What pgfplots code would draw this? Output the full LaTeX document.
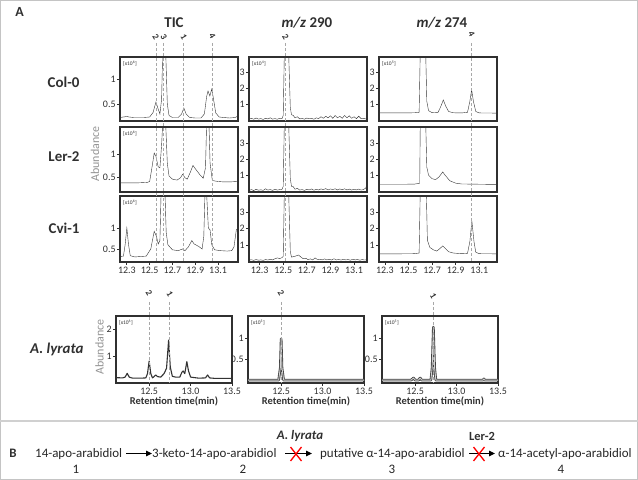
\documentclass[border=0pt]{standalone}
\usepackage{pgfplots}
\pgfplotsset{compat=1.18}
\usepackage{fontspec}
\setmainfont{Carlito}
\usetikzlibrary{arrows.meta}
\definecolor{tr}{HTML}{333333}
\definecolor{bx}{HTML}{303030}
\definecolor{gd}{HTML}{A8A8A8}
\definecolor{frame}{HTML}{C4C4C4}
\pgfplotsset{
  panel/.style={
    scale only axis,
    anchor=north west,
    axis line style={draw=bx, line width=1.3bp},
    tick style={draw=bx, line width=0.7bp},
    tick align=outside,
    major tick length=3bp,
    xtick pos=bottom, ytick pos=left,
    tick label style={font=\fontsize{10}{10}\selectfont, text=bx},
    /pgf/number format/assume math mode=true,
    cycle list={{draw=tr, line width=1.05bp, line join=round, mark=none}},
    xticklabel style={inner sep=1.5bp},
    yticklabel style={inner sep=1.2bp},
  },
  tic/.style={panel, xmin=12.24, xmax=13.275, ytick={0.5,1}, width=118bp},
  mza/.style={panel, xmin=12.21, xmax=13.21, ymin=-0.05, ymax=4, ytick={1,2,3}, width=118bp},
  mzb/.style={panel, xmin=12.25, xmax=13.25, ymin=-0.05, ymax=4, ytick={1,2,3}, width=118bp},
  upper/.style={xtick=\empty},
  lower/.style={xtick={12.3,12.5,12.7,12.9,13.1}, xticklabels={12.3,12.5,12.7,12.9,13.1}},
  lyr/.style={panel, xmin=12.1, xmax=13.5, width=116bp, height=67bp, xtick={12.5,13,13.5}, xticklabels={12.5,13.0,13.5}},
}
\newcommand{\mult}[1]{\node[anchor=west, font=\fontsize{5.5}{6}\selectfont, text=bx, inner sep=0] at (rel axis cs:0.025,0.9) {[x10\textsuperscript{#1}]};}
\tikzset{guide/.style={draw=gd, line width=0.8bp, dash pattern=on 3bp off 2bp},
  plab/.style={font=\fontsize{9}{9}\selectfont\bfseries, text=bx, rotate=-60, inner sep=0}}
\begin{document}
\begin{tikzpicture}
\path[use as bounding box] (0,0) rectangle (638bp,480bp);
% ---------------- Row 1: Col-0
\begin{axis}[tic, upper, at={(120bp,423bp)}, height=64bp, ymin=0.16, ymax=1.44]
\addplot coordinates {(12.24,0.23)(12.27,0.24)(12.30,0.25)(12.32,0.24)(12.36,0.23)(12.40,0.23)(12.45,0.23)(12.50,0.24)(12.53,0.33)(12.555,0.54)(12.575,0.40)(12.59,0.30)(12.605,0.6)(12.615,1.6)(12.64,1.6)(12.655,0.5)(12.67,0.27)(12.70,0.23)(12.75,0.23)(12.78,0.30)(12.80,0.42)(12.82,0.30)(12.85,0.23)(12.90,0.22)(12.95,0.22)(12.98,0.30)(13.00,0.65)(13.012,0.76)(13.028,0.66)(13.045,0.80)(13.06,0.60)(13.08,0.32)(13.11,0.24)(13.15,0.23)(13.20,0.22)(13.25,0.23)(13.275,0.26)};
\mult{6}
\coordinate (t2) at (axis cs:12.555,1);
\coordinate (t3) at (axis cs:12.625,1);
\coordinate (t1) at (axis cs:12.80,1);
\coordinate (t4) at (axis cs:13.05,1);
\end{axis}
\begin{axis}[mza, upper, at={(249bp,423bp)}, height=64bp]
\addplot coordinates {(12.21,0.08)(12.23,0.12)(12.25,0.06)(12.27,0.14)(12.29,0.07)(12.31,0.10)(12.33,0.05)(12.35,0.12)(12.37,0.08)(12.39,0.15)(12.41,0.07)(12.43,0.10)(12.45,0.06)(12.47,0.12)(12.49,0.10)(12.50,0.3)(12.51,4.5)(12.545,4.5)(12.56,0.8)(12.57,0.35)(12.585,0.3)(12.60,0.15)(12.62,0.22)(12.64,0.08)(12.66,0.12)(12.68,0.06)(12.70,0.14)(12.72,0.09)(12.74,0.12)(12.76,0.06)(12.78,0.15)(12.80,0.10)(12.82,0.22)(12.84,0.12)(12.86,0.25)(12.88,0.15)(12.90,0.28)(12.92,0.12)(12.94,0.30)(12.96,0.15)(12.98,0.25)(13.00,0.12)(13.02,0.30)(13.04,0.15)(13.06,0.28)(13.08,0.12)(13.10,0.22)(13.12,0.10)(13.14,0.25)(13.16,0.10)(13.18,0.12)(13.20,0.08)(13.21,0.10)};
\mult{4}
\coordinate (m2) at (axis cs:12.52,1);
\end{axis}
\begin{axis}[mzb, upper, at={(379bp,423bp)}, height=64bp]
\addplot coordinates {(12.25,0.46)(12.40,0.46)(12.55,0.47)(12.59,0.5)(12.60,4.5)(12.645,4.5)(12.655,1.2)(12.67,0.6)(12.70,0.48)(12.75,0.5)(12.77,0.8)(12.795,1.28)(12.815,0.9)(12.84,0.55)(12.88,0.47)(12.95,0.46)(13.00,0.5)(13.02,1.2)(13.035,1.93)(13.05,1.2)(13.07,0.55)(13.10,0.46)(13.25,0.45)};
\mult{5}
\coordinate (n4) at (axis cs:13.035,1);
\end{axis}
% ---------------- Row 2: Ler-2
\begin{axis}[tic, upper, at={(120bp,353bp)}, height=65bp, ymin=0.17, ymax=1.59]
\addplot coordinates {(12.24,0.37)(12.30,0.37)(12.40,0.37)(12.48,0.38)(12.50,0.40)(12.52,0.70)(12.54,1.02)(12.555,0.95)(12.575,0.72)(12.59,0.70)(12.605,1.2)(12.615,1.7)(12.64,1.7)(12.655,0.8)(12.67,0.52)(12.70,0.45)(12.74,0.43)(12.77,0.48)(12.79,0.56)(12.81,0.48)(12.83,0.45)(12.86,0.62)(12.88,0.75)(12.90,0.68)(12.94,0.55)(12.97,0.47)(12.99,0.7)(13.00,1.7)(13.02,1.7)(13.03,0.8)(13.05,0.42)(13.10,0.40)(13.15,0.39)(13.20,0.39)(13.275,0.40)};
\mult{6}
\end{axis}
\begin{axis}[mza, upper, at={(249bp,353bp)}, height=65bp]
\addplot coordinates {(12.21,0.05)(12.23,0.10)(12.25,0.04)(12.27,0.12)(12.29,0.06)(12.31,0.09)(12.33,0.05)(12.35,0.15)(12.37,0.07)(12.39,0.10)(12.41,0.05)(12.43,0.12)(12.45,0.07)(12.47,0.10)(12.49,0.12)(12.50,0.3)(12.51,4.5)(12.545,4.5)(12.56,0.8)(12.57,0.30)(12.585,0.28)(12.60,0.12)(12.62,0.18)(12.64,0.07)(12.66,0.10)(12.68,0.05)(12.70,0.12)(12.72,0.08)(12.74,0.14)(12.76,0.06)(12.78,0.12)(12.80,0.08)(12.82,0.14)(12.84,0.10)(12.86,0.16)(12.88,0.08)(12.90,0.14)(12.92,0.10)(12.94,0.15)(12.96,0.08)(12.98,0.14)(13.00,0.09)(13.02,0.15)(13.04,0.08)(13.06,0.13)(13.08,0.07)(13.10,0.12)(13.12,0.08)(13.14,0.13)(13.16,0.07)(13.18,0.10)(13.20,0.20)(13.21,0.45)};
\end{axis}
\begin{axis}[mzb, upper, at={(379bp,353bp)}, height=65bp]
\addplot coordinates {(12.25,0.43)(12.40,0.43)(12.55,0.44)(12.595,0.5)(12.60,4.5)(12.645,4.5)(12.655,1.5)(12.67,1.0)(12.70,0.78)(12.73,0.72)(12.76,0.9)(12.79,1.2)(12.81,1.0)(12.85,0.65)(12.90,0.5)(12.95,0.45)(13.05,0.44)(13.25,0.42)};
\end{axis}
% ---------------- Row 3: Cvi-1
\begin{axis}[tic, lower, at={(120bp,284bp)}, height=66bp, ymin=0.19, ymax=1.76]
\addplot coordinates {(12.24,0.32)(12.27,0.33)(12.285,0.6)(12.30,1.0)(12.315,0.6)(12.33,0.34)(12.37,0.31)(12.42,0.32)(12.47,0.33)(12.51,0.50)(12.54,0.92)(12.56,0.80)(12.575,0.62)(12.59,0.70)(12.60,1.8)(12.635,1.8)(12.645,0.9)(12.66,0.60)(12.70,0.48)(12.75,0.46)(12.79,0.50)(12.81,0.46)(12.84,0.55)(12.87,0.70)(12.89,0.62)(12.93,0.56)(12.96,0.50)(12.975,0.8)(12.985,1.8)(13.00,1.8)(13.015,1.0)(13.03,0.95)(13.045,0.6)(13.07,0.48)(13.12,0.46)(13.18,0.45)(13.22,0.46)(13.24,0.55)(13.26,0.95)(13.275,1.0)};
\mult{6}
\end{axis}
\begin{axis}[mza, lower, at={(249bp,284bp)}, height=66bp]
\addplot coordinates {(12.21,0.06)(12.23,0.09)(12.25,0.05)(12.27,0.10)(12.29,0.06)(12.31,0.08)(12.33,0.05)(12.35,0.10)(12.37,0.07)(12.39,0.12)(12.41,0.08)(12.43,0.15)(12.45,0.20)(12.47,0.16)(12.49,0.22)(12.50,0.3)(12.51,4.5)(12.545,4.5)(12.56,0.6)(12.57,0.25)(12.60,0.30)(12.63,0.38)(12.65,0.25)(12.67,0.15)(12.69,0.18)(12.71,0.10)(12.73,0.14)(12.75,0.08)(12.77,0.20)(12.79,0.10)(12.81,0.12)(12.83,0.08)(12.85,0.14)(12.87,0.08)(12.89,0.12)(12.91,0.07)(12.93,0.15)(12.95,0.08)(12.97,0.10)(12.99,0.07)(13.01,0.12)(13.03,0.08)(13.05,0.10)(13.07,0.06)(13.09,0.12)(13.11,0.08)(13.13,0.10)(13.15,0.06)(13.17,0.10)(13.19,0.07)(13.21,0.09)};
\end{axis}
\begin{axis}[mzb, lower, at={(379bp,284bp)}, height=66bp]
\addplot coordinates {(12.25,0.45)(12.40,0.45)(12.55,0.46)(12.59,0.5)(12.60,4.5)(12.65,4.5)(12.66,1.3)(12.68,0.85)(12.71,0.7)(12.74,0.62)(12.77,0.8)(12.79,0.94)(12.81,0.8)(12.84,0.58)(12.88,0.5)(12.95,0.46)(13.00,0.48)(13.02,1.2)(13.037,2.47)(13.055,1.2)(13.07,0.55)(13.10,0.46)(13.25,0.45)};
\end{axis}
% ---------------- Row 4: A. lyrata
\begin{axis}[lyr, at={(116bp,164bp)}, ymin=0, ymax=2.5, ytick={1,2}]
\addplot[draw=tr, line width=1.1bp, line join=round] coordinates {(12.10,0.20)(12.18,0.19)(12.21,0.22)(12.235,0.36)(12.26,0.22)(12.30,0.18)(12.40,0.18)(12.46,0.19)(12.48,0.35)(12.50,0.82)(12.52,0.35)(12.54,0.19)(12.56,0.24)(12.58,0.30)(12.60,0.24)(12.64,0.22)(12.68,0.35)(12.71,0.55)(12.735,1.6)(12.755,0.6)(12.78,0.25)(12.82,0.22)(12.87,0.22)(12.895,0.40)(12.91,0.45)(12.93,0.35)(12.955,0.80)(12.975,0.45)(13.00,0.22)(13.10,0.18)(13.18,0.19)(13.205,0.30)(13.23,0.19)(13.30,0.17)(13.50,0.17)};
\mult{6}
\coordinate (l2) at (axis cs:12.50,1);
\coordinate (l1) at (axis cs:12.75,1);
\end{axis}
\begin{axis}[lyr, at={(248bp,164bp)}, ymin=-0.07, ymax=1.55, ytick={0.5,1}]
\addplot[draw=black!75, line width=2.6bp, line join=round] coordinates {(12.10,0)(12.47,0)(12.49,0.3)(12.50,1.0)(12.51,0.3)(12.53,0)(13.50,0)};
\addplot[draw=gray!35, line width=0.9bp, line join=round] coordinates {(12.10,0)(12.47,0)(12.49,0.3)(12.50,1.0)(12.51,0.3)(12.53,0)(13.50,0)};
\mult{5}
\coordinate (k2) at (axis cs:12.50,1);
\end{axis}
\begin{axis}[lyr, at={(382bp,164bp)}, ymin=-0.07, ymax=1.55, ytick={0.5,1}]
\addplot[draw=black!75, line width=2.6bp, line join=round] coordinates {(12.10,0)(12.45,0)(12.48,0.05)(12.50,0)(12.54,0)(12.56,0.05)(12.58,0)(12.69,0)(12.705,0.3)(12.72,1.28)(12.735,0.3)(12.75,0)(13.32,0)(13.33,0.03)(13.34,0)(13.50,0)};
\addplot[draw=gray!35, line width=0.9bp, line join=round] coordinates {(12.10,0)(12.45,0)(12.48,0.05)(12.50,0)(12.54,0)(12.56,0.05)(12.58,0)(12.69,0)(12.705,0.3)(12.72,1.28)(12.735,0.3)(12.75,0)(13.32,0)(13.33,0.03)(13.34,0)(13.50,0)};
\mult{5}
\coordinate (j1) at (axis cs:12.72,1);
\end{axis}
% ---------------- annotations
\begin{scope}[x=1bp,y=1bp]
\draw[draw=frame, line width=1.5bp] (0.75,0.75) rectangle (637.25,479.25);
\draw[draw=frame!80, line width=2bp] (0,59) -- (638,59);
\foreach \c in {t2,t3,t1,t4,m2,n4}{\draw[guide] (\c |- 0,437) -- (\c |- 0,218);}
\foreach \c in {l2,l1,k2,j1}{\draw[guide] (\c |- 0,178) -- (\c |- 0,97);}
\node[plab] at (t2 |- 0,443) {2};
\node[plab] at (t3 |- 0,443) {3};
\node[plab] at (t1 |- 0,443) {1};
\node[plab] at (t4 |- 0,444) {4};
\node[plab] at (m2 |- 0,443) {2};
\node[plab] at (n4 |- 0,446) {4};
\node[plab] at (l2 |- 0,187) {2};
\node[plab] at (l1 |- 0,186) {1};
\node[plab] at (k2 |- 0,187) {2};
\node[plab] at (j1 |- 0,184) {1};
\node[font=\fontsize{14}{14}\selectfont\bfseries, text=bx] at (19.5,468) {A};
\node[font=\fontsize{15}{15}\selectfont\bfseries, text=bx] at (174,457) {TIC};
\node[font=\fontsize{15}{15}\selectfont\bfseries, text=bx] at (307,457) {\textit{m/z} 290};
\node[font=\fontsize{15}{15}\selectfont\bfseries, text=bx] at (442,457) {\textit{m/z} 274};
\node[font=\fontsize{15}{15}\selectfont\bfseries, text=bx, anchor=east] at (83,398) {Col-0};
\node[font=\fontsize{15}{15}\selectfont\bfseries, text=bx, anchor=east] at (83,323) {Ler-2};
\node[font=\fontsize{15}{15}\selectfont\bfseries, text=bx, anchor=east] at (83,252) {Cvi-1};
\node[font=\fontsize{15}{15}\selectfont\bfseries\itshape, text=bx, anchor=east] at (87,131) {A. lyrata};
\node[font=\fontsize{12}{12}\selectfont, text=gray!85, rotate=90] at (95,326) {Abundance};
\node[font=\fontsize{12}{12}\selectfont, text=gray!85, rotate=90] at (99.5,133) {Abundance};
\foreach \xx in {174,306,440}{\node[font=\fontsize{10.5}{10.5}\selectfont\bfseries, text=bx] at (\xx,79) {Retention time(min)};}
% panel B
\node[font=\fontsize{13}{13}\selectfont\bfseries, text=bx] at (13,27) {B};
\begin{scope}[every node/.style={font=\fontsize{13}{13}\selectfont, text=black!85, inner sep=0}]
\node[anchor=west] at (35,26) {14-apo-arabidiol};
\node[anchor=west] at (152,26) {3-keto-14-apo-arabidiol};
\node[anchor=west] at (320,26) {putative α-14-apo-arabidiol};
\node[anchor=west] at (498,26) {α-14-acetyl-apo-arabidiol};
\node at (76,11) {1};
\node at (243,11) {2};
\node at (392,11) {3};
\node at (561,11) {4};
\end{scope}
\node[font=\fontsize{13}{13}\selectfont\bfseries\itshape, text=bx] at (300,44) {A. lyrata};
\node[font=\fontsize{12.5}{12.5}\selectfont\bfseries, text=bx] at (482,44) {Ler-2};
\draw[-{Triangle[length=6bp,width=5.5bp]}, line width=1bp, black] (126,26.5) -- (152,26.5);
\draw[-{Triangle[length=6bp,width=5.5bp]}, line width=1bp, black] (285,26.5) -- (312,26.5);
\draw[-{Triangle[length=6bp,width=5.5bp]}, line width=1bp, black] (469,26.5) -- (495,26.5);
\draw[red, line width=1.3bp] (290.5,19) -- (301.5,33) (290.5,33) -- (301.5,19);
\draw[red, line width=1.3bp] (473.5,19) -- (484.5,33) (473.5,33) -- (484.5,19);
\end{scope}
\end{tikzpicture}
\end{document}
